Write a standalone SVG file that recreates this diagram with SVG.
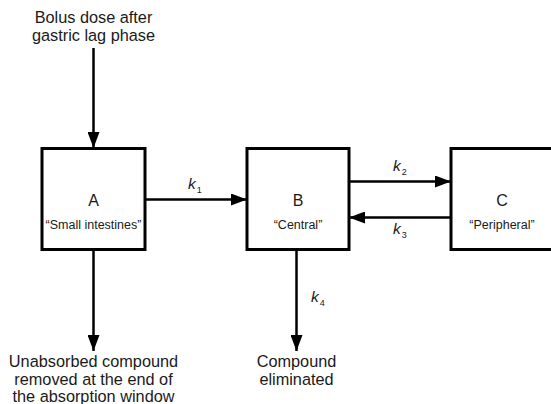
<svg xmlns="http://www.w3.org/2000/svg" width="551" height="404" viewBox="0 0 551 404">
<style>
.box{fill:#fff;stroke:#000;stroke-width:3}
.ln{stroke:#000;stroke-width:2.5;fill:none}
text{font-family:"Liberation Sans",Arial,sans-serif;fill:#1a1a1a;text-anchor:middle}
.big{font-size:16.3px}
.lt{font-size:16px}
.sm{font-size:12.5px}
.k{font-size:15.5px;font-style:italic}
.sub{font-size:9px;font-style:normal}
</style>
<defs>
<marker id="ahv" markerWidth="16" markerHeight="12" viewBox="0 0 16 12" refX="16" refY="6" orient="auto" markerUnits="userSpaceOnUse">
<path d="M0,0 L16,6 L0,12 Z" fill="#000"/>
</marker>
</defs>
<g id="connectors">
<line class="ln" x1="93.5" y1="48" x2="93.5" y2="148" marker-end="url(#ahv)"/>
<line class="ln" x1="145" y1="199.5" x2="247" y2="199.5" marker-end="url(#ahv)"/>
<line class="ln" x1="349" y1="181.5" x2="451" y2="181.5" marker-end="url(#ahv)"/>
<line class="ln" x1="451" y1="217.5" x2="349" y2="217.5" marker-end="url(#ahv)"/>
<line class="ln" x1="93.5" y1="249" x2="93.5" y2="351" marker-end="url(#ahv)"/>
<line class="ln" x1="296.5" y1="249" x2="296.5" y2="351" marker-end="url(#ahv)"/>
<text class="k" x="195" y="189">k<tspan class="sub" dx="1" dy="4">1</tspan></text>
<text class="k" x="400" y="171">k<tspan class="sub" dx="1" dy="4">2</tspan></text>
<text class="k" x="400" y="234">k<tspan class="sub" dx="1" dy="4">3</tspan></text>
<text class="k" x="318" y="302">k<tspan class="sub" dx="1" dy="4">4</tspan></text>
</g>
<g id="source">
<text class="big" x="93.5" y="23">Bolus dose after</text>
<text class="big" x="93.5" y="41">gastric lag phase</text>
</g>
<g id="nodeA">
<rect class="box" x="42" y="148.5" width="103" height="101"/>
<text class="lt" x="93.5" y="206">A</text>
<text class="sm" x="93.5" y="229">“Small intestines”</text>
</g>
<g id="nodeB">
<rect class="box" x="247" y="148.5" width="102" height="101"/>
<text class="lt" x="298" y="206">B</text>
<text class="sm" x="298" y="229">“Central”</text>
</g>
<g id="nodeC">
<rect class="box" x="451" y="148.5" width="102" height="101"/>
<text class="lt" x="502" y="206">C</text>
<text class="sm" x="502" y="229">“Peripheral”</text>
</g>
<g id="unabsorbed">
<text class="big" x="93.5" y="367">Unabsorbed compound</text>
<text class="big" x="93.5" y="385">removed at the end of</text>
<text class="big" x="93.5" y="402">the absorption window</text>
</g>
<g id="eliminated">
<text class="big" x="296.5" y="367">Compound</text>
<text class="big" x="296.5" y="385">eliminated</text>
</g>
</svg>
